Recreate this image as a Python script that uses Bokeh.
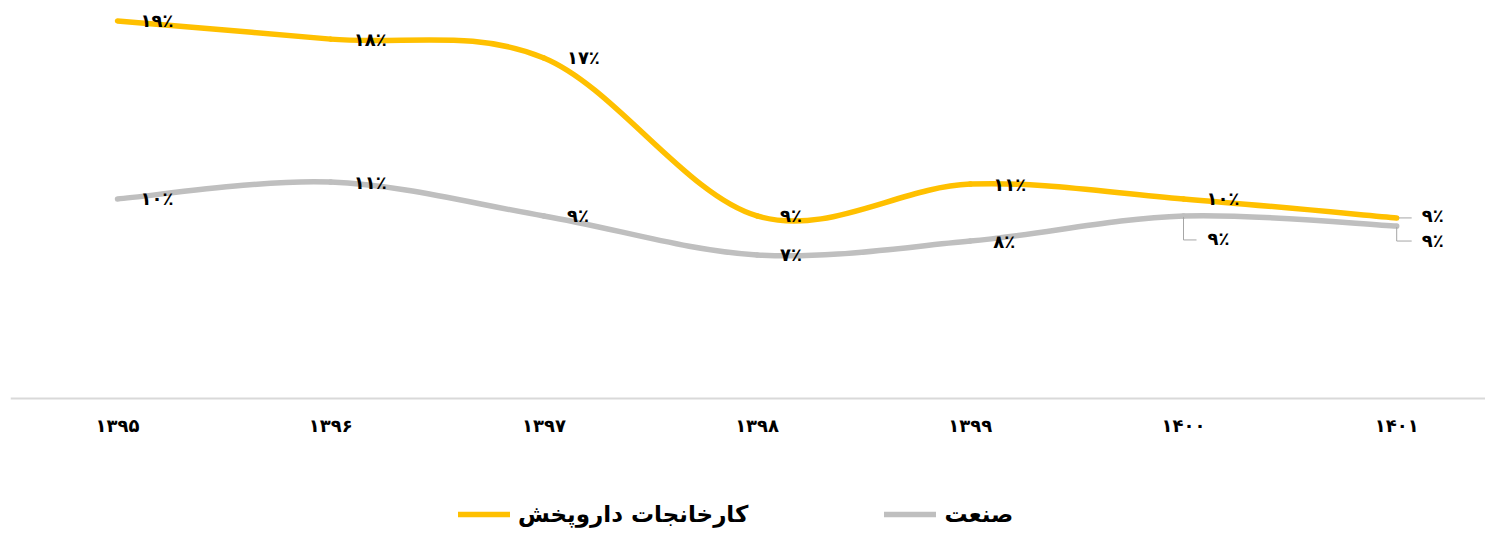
from bokeh.plotting import figure
from bokeh.models import Range1d, FixedTicker, Legend, LegendItem, ColumnDataSource
from bokeh.embed import file_html
from bokeh.resources import INLINE
from bokeh.core.properties import value

# ---- data ----
years = ["۱۳۹۵", "۱۳۹۶", "۱۳۹۷", "۱۳۹۸", "۱۳۹۹", "۱۴۰۰", "۱۴۰۱"]
pharma = [19.07, 18.15, 17.2, 9.22, 10.83, 10.08, 9.12]
industry = [10.08, 10.93, 9.22, 7.25, 7.95, 9.22, 8.71]
pharma_labels = ["۱۹٪", "۱۸٪", "۱۷٪", "۹٪", "۱۱٪", "۱۰٪", "۹٪"]
industry_labels = ["۱۰٪", "۱۱٪", "۹٪", "۷٪", "۸٪", "۹٪", "۹٪"]
series_names = ["کارخانجات داروپخش", "صنعت"]

# ---- style ----
colors = ["#FFC000", "#BFBFBF"]
FONT = "DejaVu Sans"
PX_X = 213.2   # pixels per category step
PX_Y = 19.8    # pixels per percent
W, H = 1485, 534
LEFT = 10
ZERO_Y = 398   # pixel row of the baseline
xs = list(range(len(years)))

p = figure(width=W, height=H,
           x_range=Range1d(-(117 - LEFT) / PX_X, (W - 117) / PX_X),
           y_range=Range1d(-(H - ZERO_Y) / PX_Y, ZERO_Y / PX_Y),
           output_backend="svg", toolbar_location=None, y_axis_location=None,
           min_border_left=LEFT, min_border_right=0, min_border_top=0, min_border_bottom=0)
p.outline_line_color = None
p.grid.visible = False
p.background_fill_color = "white"
p.border_fill_color = "white"

ax = p.xaxis[0]
ax.fixed_location = 0
ax.ticker = FixedTicker(ticks=xs)
ax.major_label_overrides = {i: y for i, y in enumerate(years)}
ax.axis_line_color = "#D9D9D9"
ax.axis_line_width = 2
ax.major_tick_line_color = None
ax.minor_tick_line_color = None
ax.major_tick_out = 0
ax.major_tick_in = 0
ax.major_label_standoff = 16
ax.major_label_text_font = FONT
ax.major_label_text_font_style = "bold"
ax.major_label_text_font_size = "18px"
ax.major_label_text_color = "black"


def smooth(vals):
    n = len(vals)
    P = [(float(i), float(v)) for i, v in enumerate(vals)]
    d = dict(x0=[], y0=[], x1=[], y1=[], cx0=[], cy0=[], cx1=[], cy1=[])
    for i in range(n - 1):
        pm = P[max(i - 1, 0)]
        p0 = P[i]
        p1 = P[i + 1]
        p2 = P[min(i + 2, n - 1)]
        d["x0"].append(p0[0]); d["y0"].append(p0[1])
        d["x1"].append(p1[0]); d["y1"].append(p1[1])
        d["cx0"].append(p0[0] + (p1[0] - pm[0]) / 6)
        d["cy0"].append(p0[1] + (p1[1] - pm[1]) / 6)
        d["cx1"].append(p1[0] - (p2[0] - p0[0]) / 6)
        d["cy1"].append(p1[1] - (p2[1] - p0[1]) / 6)
    return ColumnDataSource(d)


for vals, col in ((industry, colors[1]), (pharma, colors[0])):
    p.bezier(x0="x0", y0="y0", x1="x1", y1="y1", cx0="cx0", cy0="cy0",
             cx1="cx1", cy1="cy1", source=smooth(vals),
             line_color=col, line_width=5.5, line_cap="round")

# leader lines for displaced labels
lead = "#A6A6A6"
v = industry[5]
p.line([5, 5, 5 + 13 / PX_X], [v - 1 / PX_Y, v - 24 / PX_Y, v - 24 / PX_Y], line_color=lead, line_width=1)
v = pharma[6]
p.line([6 + 2 / PX_X, 6 + 15 / PX_X], [v, v], line_color=lead, line_width=1)
v = industry[6]
p.line([6, 6, 6 + 15 / PX_X], [v - 1 / PX_Y, v - 15 / PX_Y, v - 15 / PX_Y], line_color=lead, line_width=1)

# data labels
px_off = [23, 23, 23, 23, 23, 23, 25]
py_off = [0, 0, 0, 0, 0, 0, -2]
ix_off = [23, 23, 23, 23, 23, 24, 25]
iy_off = [0, 0, 0, 0, 0, 23, 14]
for vals, labs, xo, yo in ((pharma, pharma_labels, px_off, py_off),
                           (industry, industry_labels, ix_off, iy_off)):
    src = ColumnDataSource(dict(x=xs, y=vals, t=labs, xo=xo, yo=yo))
    p.text(x="x", y="y", text="t", x_offset="xo", y_offset="yo", source=src,
           text_font=value(FONT), text_font_style="bold", text_font_size="18px",
           text_color="black", text_align="left", text_baseline="middle")

# legend proxies (single point lines: invisible in the plot, used for the key)
r1 = p.line(x=xs[:1], y=pharma[:1], line_color=colors[0], line_width=5.5, line_cap="round")
r2 = p.line(x=xs[:1], y=industry[:1], line_color=colors[1], line_width=5.5, line_cap="round")
legend = Legend(items=[LegendItem(label=series_names[0], renderers=[r1]),
                       LegendItem(label=series_names[1], renderers=[r2])],
                location=(448, 7), orientation="horizontal",
                padding=0, margin=0, spacing=136, glyph_width=52, glyph_height=22,
                label_standoff=8, label_height=22,
                label_text_font=FONT, label_text_font_style="bold",
                label_text_font_size="23px", label_text_color="black",
                border_line_color=None, background_fill_alpha=0)
p.add_layout(legend, "center")

open("out.html", "w").write(file_html(p, INLINE))
